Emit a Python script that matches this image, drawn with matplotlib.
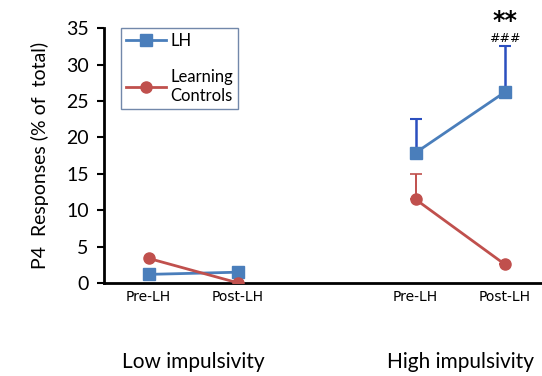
import matplotlib.pyplot as plt

plt.rcParams['font.family'] = ['Lato', 'DejaVu Sans']

# x positions: low impulsivity pre/post, high impulsivity pre/post
xpos = [1, 2, 4, 5]
phase_labels = ["Pre-LH", "Post-LH", "Pre-LH", "Post-LH"]
group_labels = ["Low impulsivity", "High impulsivity"]

lh_mean = [1.2, 1.5, 17.9, 26.2]
lh_err = [0, 0, 4.6, 6.4]
ctrl_mean = [3.4, 0.05, 11.5, 2.6]
ctrl_err = [0, 0, 3.5, 0]

blue = "#4A7EBB"
red = "#C0504D"

fig = plt.figure(figsize=(5.42, 3.76), dpi=100)
ax = fig.add_axes([0.192, 0.247, 0.808, 0.678])

# error bars (upper only) under the lines
ax.errorbar(xpos[2:], lh_mean[2:], yerr=[[0, 0], lh_err[2:]], fmt="none",
            ecolor="#2B4FBF", elinewidth=1.8, capsize=4, capthick=1.5, zorder=2)
ax.errorbar(xpos[2:], ctrl_mean[2:], yerr=[[0, 0], ctrl_err[2:]], fmt="none",
            ecolor="#C0504D", elinewidth=1.4, capsize=4, capthick=1.2, zorder=2)

# each group is a separate segment
for sl in (slice(0, 2), slice(2, 4)):
    ax.plot(xpos[sl], lh_mean[sl], color=blue, lw=2, marker="s", ms=8,
            label="LH" if sl.start == 0 else None, zorder=3)
    ax.plot(xpos[sl], ctrl_mean[sl], color=red, lw=2, marker="o", ms=8,
            label="Learning\nControls" if sl.start == 0 else None, zorder=3)

ax.set_xlim(0.5, 5.42)
ax.set_ylim(0, 35)
ax.set_yticks(range(0, 36, 5))
ax.tick_params(axis="y", direction="out", length=5, width=1.5, labelsize=14, pad=6)
ax.set_xticks(xpos)
ax.set_xticklabels(phase_labels, fontsize=10, family="DejaVu Sans")
ax.tick_params(axis="x", length=0, pad=5)

for s in ("top", "right"):
    ax.spines[s].set_visible(False)
ax.spines["left"].set_linewidth(2)
ax.spines["bottom"].set_linewidth(2)

ax.set_ylabel("P4  Responses (% of  total)", fontsize=14, labelpad=12)

ax.text(1.5, -0.31, group_labels[0], transform=ax.get_xaxis_transform(),
        ha="center", va="center", fontsize=15)
ax.text(4.5, -0.31, group_labels[1], transform=ax.get_xaxis_transform(),
        ha="center", va="center", fontsize=15)

ax.text(5, 36.0, "**", ha="center", va="center", fontsize=17,
        fontweight="bold", family="DejaVu Sans", clip_on=False)
ax.text(5, 33.6, "###", ha="center", va="center", fontsize=9,
        family="DejaVu Sans")

leg = ax.legend(loc="upper left", bbox_to_anchor=(0.038, 1.0), fontsize=12,
                frameon=True, fancybox=False, edgecolor="#4F6B95",
                handlelength=2.4, labelspacing=1.2, borderpad=0.3,
                handletextpad=0.3, borderaxespad=0)
leg.get_frame().set_linewidth(1)

fig.savefig("out.png", dpi=100)
